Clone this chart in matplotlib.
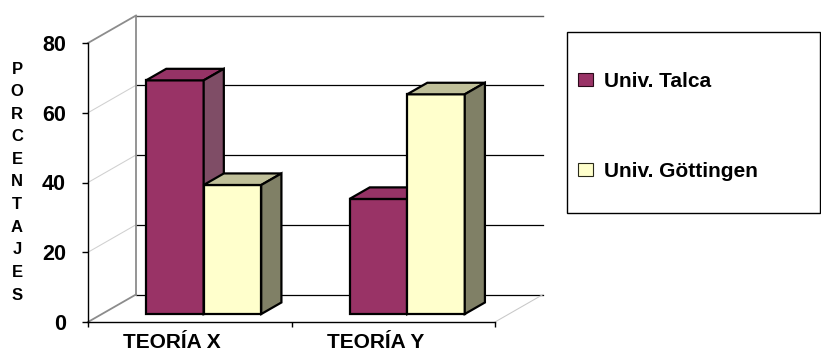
import matplotlib.pyplot as plt
from matplotlib.patches import Polygon, Patch, Rectangle

plt.rcParams['font.family'] = ['Liberation Sans', 'DejaVu Sans']
plt.rcParams['font.weight'] = 'bold'

categorias = ["TEORÍA X", "TEORÍA Y"]
series = ["Univ. Talca", "Univ. Göttingen"]
talca = [67, 33]
gottingen = [37, 63]
yticks = [0, 20, 40, 60, 80]
titulo_y = "PORCENTAJES"

# colores: frente, tapa, costado
col_talca = ("#993366", "#963366", "#7f4d66")
col_gott = ("#ffffcc", "#bfbf99", "#808066")

W, H = 821, 354
fig = plt.figure(figsize=(W / 100, H / 100), dpi=100)

# plano frontal de la caja 3d (pixeles)
x0, x1, y0, y1 = 88, 495, 322, 43
ax = fig.add_axes([x0 / W, (H - y0) / H, (x1 - x0) / W, (y0 - y1) / H])
ax.set_xlim(0, len(categorias))
ax.set_ylim(0, 80)

# profundidad de la caja en unidades de datos
ddx = 48 / ((x1 - x0) / len(categorias))
ddy = 27.5 / ((y0 - y1) / 80)

# pared del fondo y pared lateral
for v in yticks:
    if v == 80:
        c, lw = "#5a5a5a", 1.0
    else:
        c, lw = "black", 0.9
    ax.plot([ddx, len(categorias) + ddx], [v + ddy, v + ddy], color=c, lw=lw,
            clip_on=False, zorder=1)
    if v in (0, 80):
        ax.plot([0, ddx], [v, v + ddy], color="#8c8c8c", lw=1.3,
                clip_on=False, zorder=1)
    else:
        ax.plot([0, ddx], [v, v + ddy], color="#d0d0d0", lw=0.75,
                clip_on=False, zorder=1)
ax.plot([ddx, ddx], [ddy, 80 + ddy], color="#8c8c8c", lw=1.3,
        clip_on=False, zorder=1)
ax.plot([len(categorias), len(categorias) + ddx], [0, ddy], color="#c8c8c8",
        lw=0.75, clip_on=False, zorder=1)

# barras 3d
bw = 0.283
f1, f2 = 0.29, 0.71


def barra(xl, v, colores, z):
    def p(x, y, f):
        return (x + f * ddx, y + f * ddy)
    A1, B1, C1, D1 = p(xl, 0, f1), p(xl + bw, 0, f1), p(xl + bw, v, f1), p(xl, v, f1)
    B2, C2, D2 = p(xl + bw, 0, f2), p(xl + bw, v, f2), p(xl, v, f2)
    caras = [([A1, B1, C1, D1], colores[0]),
             ([D1, C1, C2, D2], colores[1]),
             ([B1, B2, C2, C1], colores[2])]
    for pts, fc in caras:
        ax.add_patch(Polygon(pts, closed=True, facecolor=fc, edgecolor="black",
                             lw=1.6, joinstyle="miter", clip_on=False, zorder=z))


z = 3
for i in range(len(categorias)):
    xl = i + 0.5 - bw
    barra(xl, talca[i], col_talca, z)
    barra(xl + bw, gottingen[i], col_gott, z + 1)
    z += 2

# ejes
for s in ("top", "right"):
    ax.spines[s].set_visible(False)
ax.spines["left"].set_color("black")
ax.spines["bottom"].set_color("black")
ax.spines["left"].set_linewidth(1.0)
ax.spines["bottom"].set_linewidth(1.0)
ax.set_yticks(yticks)
ax.set_xticks(range(len(categorias) + 1))
ax.set_xticklabels([])
ax.tick_params(axis="y", length=4.3, width=1, pad=11.5, labelsize=15.5)
ax.tick_params(axis="x", length=3.6, width=1)
ax.patch.set_visible(False)

for i, cat in enumerate(categorias):
    ax.annotate(cat, xy=(i + 0.5 - 0.087, 0), xytext=(0, -19), textcoords="offset points",
                ha="center", va="baseline", fontsize=15, fontweight="bold",
                annotation_clip=False)

# titulo vertical, letra por letra
for i, letra in enumerate(titulo_y):
    fig.text(17 / W, 1 - (69 + 22.6 * i) / H, letra, ha="center", va="center",
             fontsize=12, fontweight="bold")

# leyenda
handles = [Patch(facecolor=col_talca[0], edgecolor="#2a0a1a", lw=0.8),
           Patch(facecolor=col_gott[0], edgecolor="#2a2a1a", lw=0.8)]
ax.legend(handles, series, loc="upper left", bbox_to_anchor=(578 / W, 1 - 72 / H),
          bbox_transform=fig.transFigure, frameon=False, fontsize=15,
          handlelength=0.72, handleheight=0.55, handletextpad=0.55,
          labelspacing=3.4, borderpad=0, borderaxespad=0)
fig.add_artist(Rectangle((567 / W, 1 - 213 / H), (820 - 567) / W, (213 - 32) / H,
                         transform=fig.transFigure, fill=False,
                         edgecolor="black", lw=1.0))

fig.savefig("out.png", dpi=100)
